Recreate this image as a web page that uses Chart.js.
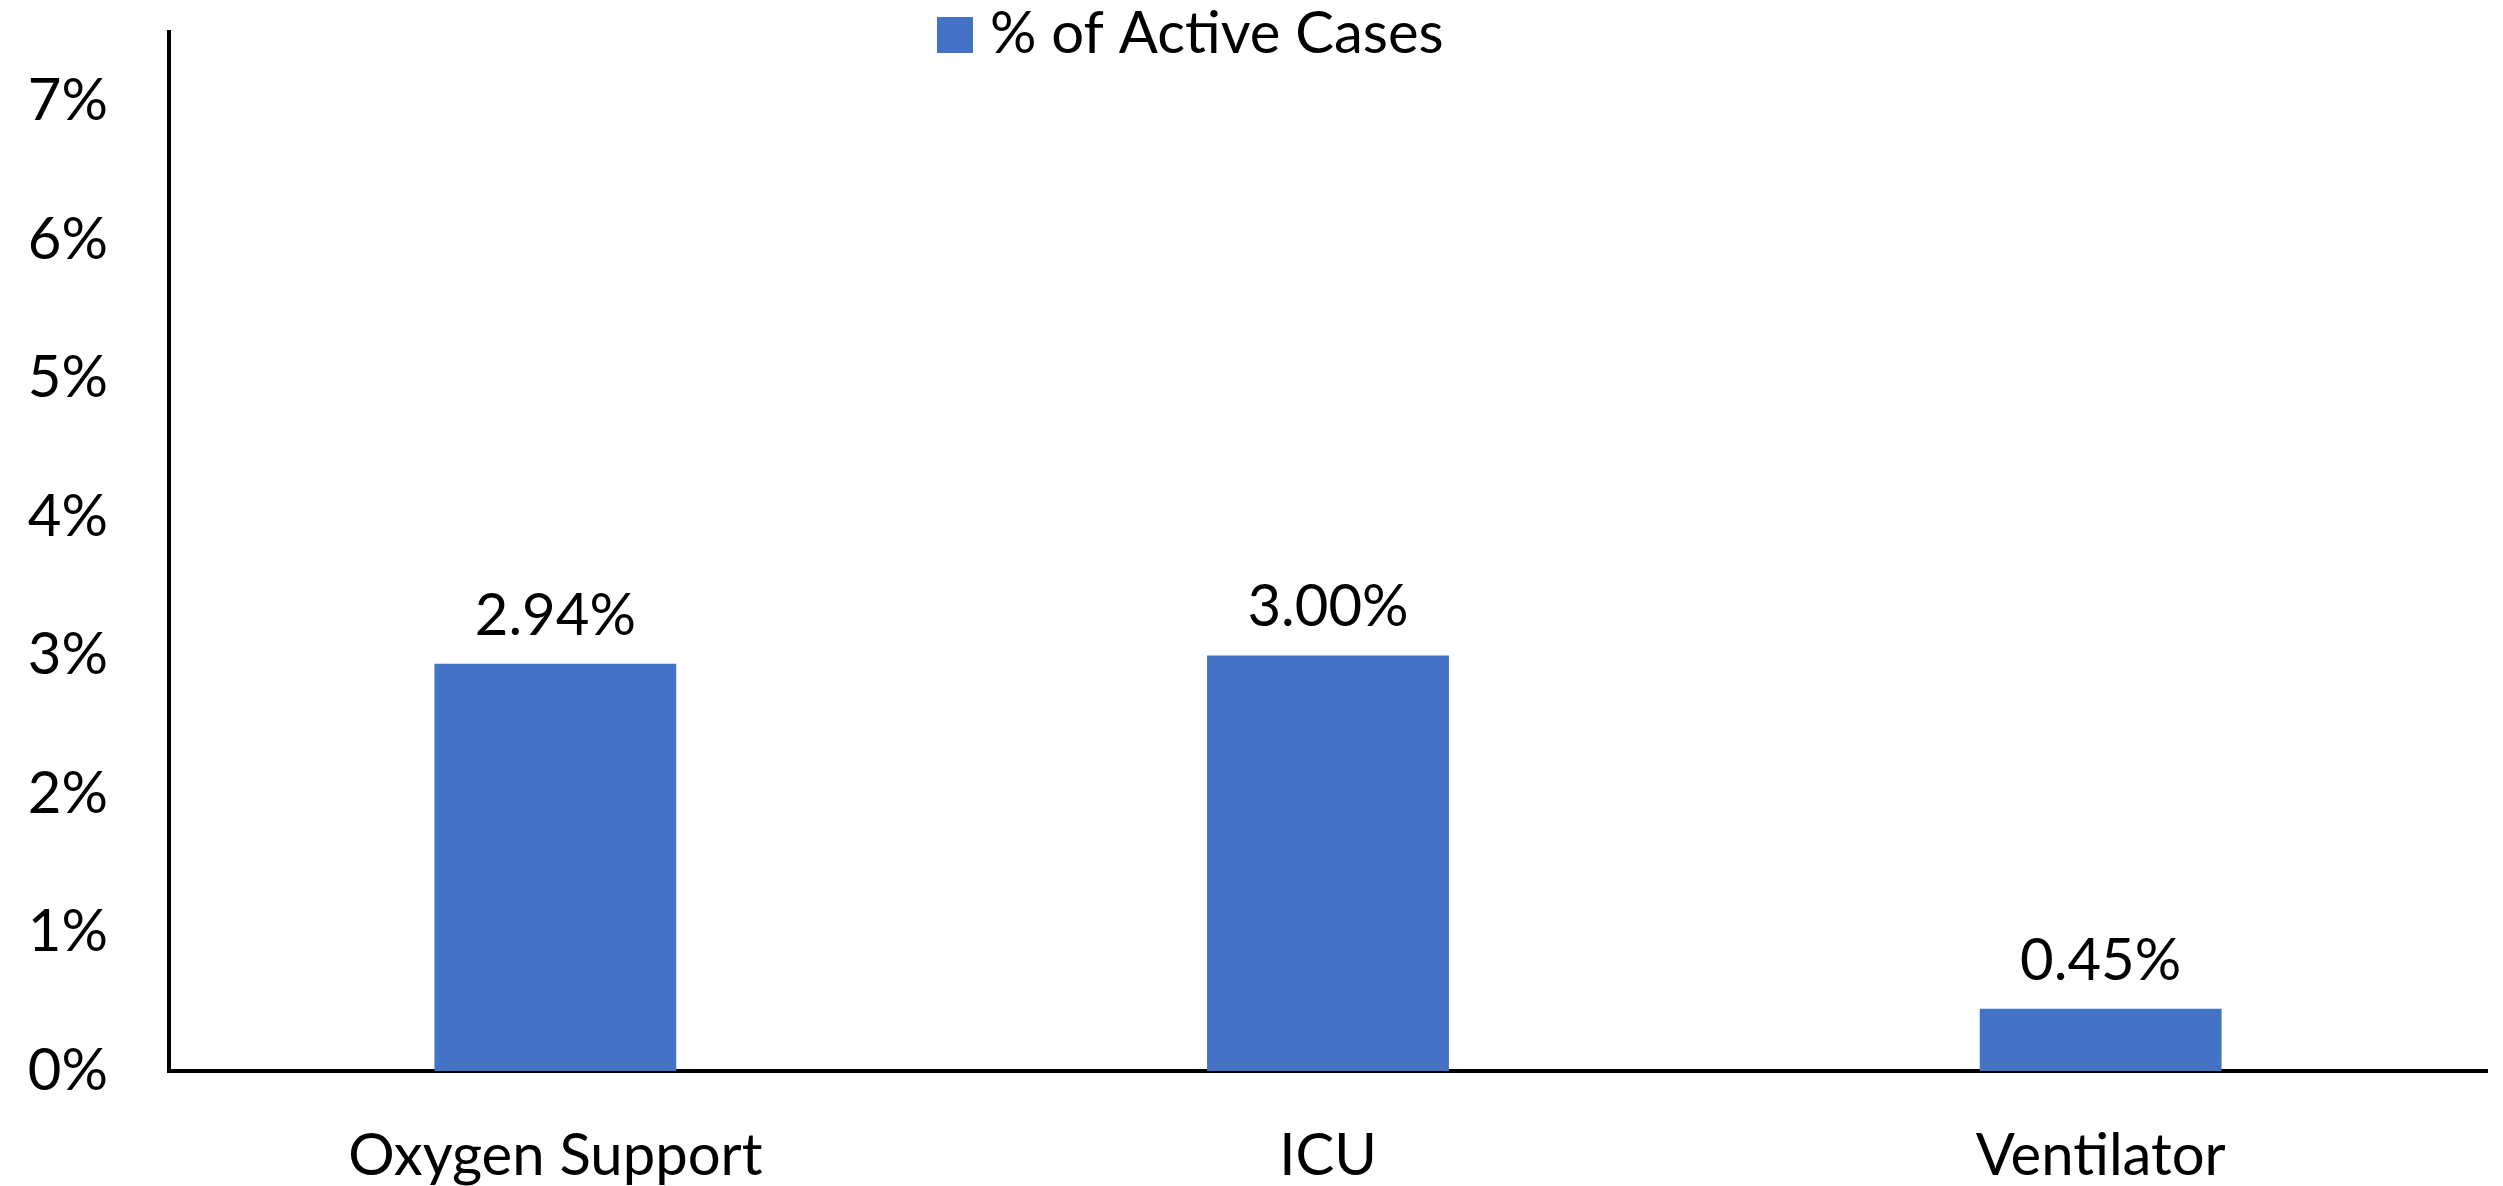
<!DOCTYPE html>
<html>
<head>
<meta charset="utf-8">
<script src="https://cdn.jsdelivr.net/npm/chart.js@4/dist/chart.umd.min.js"></script>
<style>
  html, body { margin: 0; padding: 0; background: #ffffff; }
  canvas { display: block; }
</style>
</head>
<body>
<canvas id="c" width="2503" height="1186"></canvas>
<script>
const categories = ['Oxygen Support', 'ICU', 'Ventilator'];
const seriesLabel = '% of Active Cases';
const seriesValues = [2.94, 3.00, 0.45];
const yTickValues = [0, 1, 2, 3, 4, 5, 6, 7];

const FONT = 'Lato';
const FS = 58;
const BAR_COLOR = '#4472C4';

const valueLabels = {
  id: 'valueLabels',
  afterDatasetsDraw(chart) {
    const ctx = chart.ctx;
    const meta = chart.getDatasetMeta(0);
    ctx.save();
    ctx.font = FS + 'px ' + FONT;
    ctx.fillStyle = '#000';
    ctx.textAlign = 'center';
    ctx.textBaseline = 'alphabetic';
    meta.data.forEach((bar, i) => {
      const v = chart.data.datasets[0].data[i];
      ctx.fillText(v.toFixed(2) + '%', bar.x, bar.y - 29);
    });
    ctx.restore();
  }
};

const customLegend = {
  id: 'customLegend',
  afterDraw(chart) {
    const ctx = chart.ctx;
    const ds = chart.data.datasets[0];
    ctx.save();
    ctx.fillStyle = ds.backgroundColor;
    ctx.fillRect(937, 17, 36, 36);
    ctx.font = FS + 'px ' + FONT;
    ctx.fillStyle = '#000';
    ctx.textAlign = 'left';
    ctx.textBaseline = 'alphabetic';
    ctx.fillText(ds.label, 990, 53);
    ctx.restore();
  }
};

new Chart(document.getElementById('c'), {
  type: 'bar',
  data: {
    labels: categories,
    datasets: [{
      label: seriesLabel,
      data: seriesValues,
      backgroundColor: BAR_COLOR,
      borderWidth: 0,
      categoryPercentage: 1,
      barPercentage: 0.313
    }]
  },
  options: {
    responsive: false,
    devicePixelRatio: 1,
    animation: false,
    layout: { padding: { top: 32, right: 16, left: 0, bottom: 0 } },
    plugins: {
      legend: { display: false },
      tooltip: { enabled: false }
    },
    scales: {
      x: {
        grid: { display: false, drawTicks: false },
        border: { display: true, color: '#000', width: 4 },
        ticks: { color: '#000', font: { family: FONT, size: FS }, padding: 50, maxRotation: 0 },
        afterFit(scale) {
          scale.height = 115;
          scale.paddingLeft = 0; scale.paddingRight = 0;
          scale.paddingTop = 0; scale.paddingBottom = 0;
        }
      },
      y: {
        min: 0,
        max: 7.5,
        grid: { display: false, drawTicks: false },
        border: { display: true, color: '#000', width: 4 },
        afterBuildTicks(scale) {
          scale.ticks = yTickValues.map(v => ({ value: v }));
        },
        ticks: {
          color: '#000',
          font: { family: FONT, size: FS },
          padding: 61,
          callback: v => v + '%'
        },
        afterFit(scale) {
          scale.width = 169;
          scale.paddingTop = 0; scale.paddingBottom = 0;
          scale.paddingLeft = 0; scale.paddingRight = 0;
        }
      }
    }
  },
  plugins: [valueLabels, customLegend]
});
</script>
</body>
</html>
